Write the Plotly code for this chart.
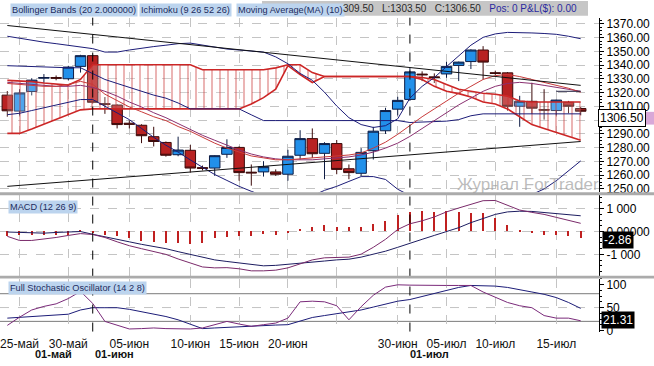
import plotly.graph_objects as go

W, H = 654, 366

# ---------------- data ----------------
idx = list(range(48))
opens  = [1318.2,1306.6,1320.8,1330.5,1331.0,1330.1,1339.1,1346.9,1312.0,1311.0,1297.8,1296.3,1288.0,1283.8,1274.9,1278.1,
          1265.5,1265.2,1275.2,1280.2,1262.2,1262.4,1262.4,1260.7,1274.5,1286.6,1275.9,1283.0,1264.7,1261.4,1277.8,1292.3,
          1308.0,1315.1,1333.5,1331.5,1333.6,1339.8,1342.6,1351.0,1334.5,1334.4,1310.1,1313.7,1307.7,1307.0,1313.0,1308.5]
highs  = [1321.2,1322.5,1330.5,1333.5,1332.5,1339.5,1347.5,1347.5,1316.8,1311.5,1299.9,1297.0,1295.2,1284.5,1288.0,1282.0,
          1267.0,1274.5,1286.1,1281.0,1267.8,1270.2,1264.2,1278.5,1292.7,1294.0,1284.0,1285.6,1267.8,1279.7,1295.2,1309.0,
          1317.0,1338.0,1335.5,1334.0,1342.4,1342.6,1351.5,1353.8,1336.0,1335.0,1317.7,1327.2,1322.5,1315.0,1314.0,1309.5]
lows   = [1302.5,1303.4,1318.0,1327.0,1329.0,1329.0,1334.6,1312.0,1304.6,1294.0,1294.0,1283.3,1280.9,1273.5,1273.8,1261.9,
          1263.5,1259.5,1272.6,1256.0,1252.4,1259.0,1259.5,1256.0,1271.4,1272.6,1257.1,1260.7,1257.1,1259.5,1271.4,1290.0,
          1303.4,1314.0,1328.4,1327.0,1330.8,1328.4,1337.2,1329.6,1333.0,1307.0,1295.2,1304.6,1300.4,1303.4,1305.0,1303.5]
closes = [1306.8,1319.8,1329.1,1331.0,1330.5,1338.6,1346.9,1313.0,1311.5,1296.8,1297.0,1288.7,1284.5,1274.5,1278.3,1265.2,
          1265.0,1274.2,1280.2,1261.9,1261.7,1266.2,1260.7,1273.8,1286.6,1275.6,1283.0,1264.2,1261.9,1276.6,1292.0,1307.0,
          1314.4,1335.1,1333.0,1331.0,1339.1,1342.2,1351.0,1342.2,1334.0,1310.1,1313.7,1308.7,1307.3,1314.6,1310.1,1306.5]

bb_upper = [1361,1359.5,1358,1356.7,1355.6,1354.5,1353.5,1352,1349.5,1349.5,1351,1352.4,1353.5,1354.5,1355.6,1356,
            1354.5,1353,1351.7,1351,1350.3,1349.5,1346,1341,1334,1329,1320.3,1310.3,1301.8,1296.8,1294.7,1296,
            1301,1316,1324.6,1331,1338.9,1346.7,1354.5,1360.2,1362.7,1363.8,1363.8,1363.4,1363,1362.4,1361,1359.2]
bb_lower = [1304,1305,1307,1309,1311,1313,1315,1315,1310.3,1305.4,1300.4,1294,1287.5,1281.8,1276.8,1271.1,
            1265.5,1260.5,1256.2,1251.9,1248.3,1245,1243,1242,1243,1245,1249,1251.9,1255.5,1259,1259,1256.9,
            1249.8,1245,1240,1236,1233,1230,1230,1232,1235,1238,1242,1246,1250,1256,1263,1270.4]
kijun    = [1339.6,1339.2,1338.9,1338.9,1338.5,1338.1,1338.1,1333.9,1329.6,1326.7,1323.9,1321,1318.2,1316,1312.5,1308.2,
            1308.2,1308.2,1308.2,1308.2,1303.9,1299.7,1299.7,1299.7,1299.7,1299.7,1299.7,1299.7,1299.7,1299.7,1299.7,1299.7,
            1299.7,1298.3,1298.6,1299,1299.3,1300.4,1303.2,1304.6,1304.6,1304.6,1304.6,1304.6,1304.6,1304.6,1304.6,1304.6]
ma10     = [1326.7,1326,1325.3,1324.6,1324.6,1326,1328.2,1326,1318.9,1314,1309.6,1306.1,1302.5,1299.7,1295.4,1291.9,
            1287.5,1283.3,1279.7,1276.8,1274,1272.6,1271.2,1271.2,1271.9,1272.6,1273.3,1274,1274.7,1276.1,1279.7,1284,
            1289.7,1296.1,1302.5,1308.2,1313.9,1319.6,1324.6,1329.6,1332.4,1333.2,1331.7,1329.6,1327.4,1325.3,1323.2,1320.3]
bb_mid   = [1327.5,1326.7,1326,1325.3,1324.6,1324.6,1325.3,1323.8,1321,1317.5,1313.2,1309.6,1305.4,1301.8,1297.5,1293.2,
            1289,1285.4,1281.9,1278.3,1275.4,1273.3,1271.9,1271.2,1271.2,1271.2,1271.9,1272.6,1273.3,1274.7,1276.8,1279.7,
            1283.3,1288.2,1293.9,1299.7,1305.4,1311.1,1316,1321,1324.6,1326.7,1327.5,1326.7,1325.3,1323.8,1322.5,1321]
tenkan_tail = [None]*45 + [1321, 1321, 1321]
span_top = [1328.9,1328.5,1328,1327,1326,1325.5,1329.6,1340.3,1340.3,1340.3,1340.3,1340.3,1340.3,1340.3,1340.3,1340.3,
            1336.7,1336.7,1336.7,1336.7,1336.7,1336.7,1338,1340.3,1340.3,1334.6,1331.7,1331.7,1331.7,1331.7,1331.7,1331.7,
            1331.7,1331.7,1331,1329.6,1326,1322.5,1321,1319.6,1318.9,1317.5,1313.9,1313.2,1313.2,1313.2,1313.2,1313.2]
span_bot = [1290.4,1290.4,1293.6,1297.2,1300.6,1304,1307.5,1308.2,1308.2,1308.2,1308.2,1308.2,1308.2,1308.2,1308.2,1308.2,
            1308.2,1308.2,1308.2,1308.2,1311.8,1316.4,1322.5,1339.6,1333.2,1327.4,1331.7,1331.7,1331.7,1331.7,1331.7,1331.7,
            1331.7,1331.7,1329.6,1324.6,1321,1319.3,1316.8,1313.2,1311.8,1308.2,1302.5,1296.8,1294,1291.1,1288.2,1285.4]
trend_x = [0, 47]
trend_upper = [1368.8, 1325.3]
trend_lower = [1251.9, 1284.5]

macd_line = [-2.1,-3.9,-3.9,-3.4,-2.6,-1.7,-0.9,-1.3,-2.6,-4.5,-6.2,-7.5,-8.8,-10,-12,-13.7,
             -15.5,-15.9,-15.8,-16.3,-17.2,-17.2,-16.9,-15.9,-14.2,-12.4,-11.5,-11.4,-11.2,-9.9,-6.9,-3.4,
             0.9,3.4,4.7,6.4,8.6,10.3,12,13.5,13.6,11.6,9.4,8.4,7.5,6.2,4.9,3.6]
macd_signal = [-0.2,-0.4,-0.6,-0.7,-0.4,-0.2,0,-1.2,-2.4,-3.4,-4.5,-5.6,-6.4,-7.5,-8.8,-10.1,
               -11.4,-12.4,-13.1,-13.7,-14.4,-15,-14.8,-14.4,-13.9,-13.3,-12.9,-12.4,-12.1,-11.2,-10,-8.6,
               -6.9,-5.3,-3.4,-1.7,0,1.7,3.9,5.8,7.5,8.6,8.9,8.8,8.4,7.9,7.4,6.9]
macd_hist = [-2,-1.4,-1.4,-1.4,-1.4,-1.4,0.7,-0.7,-1.4,-1.9,-2.9,-4.3,-4.6,-5,-5.3,-5.7,
             -5,-2.9,-2.4,-1.9,-2.1,-1.1,-1.4,-0.7,1.1,2.1,2.9,1.7,1.7,2.1,3.1,4.6,
             7.1,8.6,8.9,8.6,8.9,8.6,7.9,7.9,5.7,2.9,0.7,-0.7,-1.4,-1.7,-1.9,-2.86]
stoch_k = [11.3,29,44.7,52.5,58,69.5,85,58.9,19.9,11.3,3.5,4.3,5.7,4.3,3.5,3.5,
           5.7,12.8,19.9,14.2,9.2,12.8,16.3,27,62.4,63.8,62.4,53.9,23.4,51.8,76.6,94.3,
           99.3,98.6,97.9,97.9,97.9,97.9,97.9,83.7,73,61,53.9,49.6,32.6,27,27,21.31]
stoch_d = [27,28.4,30.5,32.6,34,35.5,44.7,49.6,49.6,49.6,46.1,41.1,36.2,30.5,23.4,14.2,
           4.3,5.7,7.1,9.2,10.6,11.3,12,12.8,19.9,28.4,32.6,36.9,39.7,44.7,51,58.2,
           63.8,67.4,73.8,79.4,85.8,93.6,97.9,97.9,96.5,93.6,89.4,83.7,78.7,71.6,61,48.2]

date_pos = [1, 5, 10, 15, 19, 23, 27, 32, 36, 40, 45]
date_labels = ['25-май', '30-май', '05-июн', '10-июн', '15-июн', '20-июн', '', '30-июн', '05-июл', '10-июл', '15-июл']
month_labels = ['01-май', '01-июн', '01-июл']
month_pos = [3.8, 8.8, 34.6]
month_lines = [7, 33]
last_price = 1306.50
macd_last = -2.86
stoch_last = 21.31

# ---------------- helpers ----------------
def px(x):
    return x / W

def py(y):
    return 1 - y / H

XD = px(599)
XR = [-0.6, 48.5]
FONT = 'Liberation Sans, Arial, sans-serif'
NAVY = '#1c1c78'
GRID = '#c4c4c4'

fig = go.Figure()

# cloud
fig.add_trace(go.Scatter(x=idx, y=span_bot, mode='lines', line=dict(color='#cc2626', width=1.6),
                         xaxis='x', yaxis='y', hoverinfo='skip', showlegend=False))
fig.add_trace(go.Scatter(x=idx, y=span_top, mode='lines', line=dict(color='#cc2626', width=1.6),
                         fill='tonexty', fillcolor='rgba(255,245,245,0.2)',
                         fillpattern=dict(shape='|', size=8, solidity=0.18, fgcolor='#c83030',
                                          bgcolor='rgba(255,248,248,0.2)'),
                         xaxis='x', yaxis='y', hoverinfo='skip', showlegend=False))

# candles
fig.add_trace(go.Candlestick(x=idx, open=opens, high=highs, low=lows, close=closes,
                             increasing=dict(line=dict(color='#0e1c44', width=1), fillcolor='#2290ea'),
                             decreasing=dict(line=dict(color='#3c0a0a', width=1), fillcolor='#b82222'),
                             whiskerwidth=0, xaxis='x', yaxis='y', hoverinfo='skip', showlegend=False))

def line(xv, yv, color, width=1, xa='x', ya='y'):
    fig.add_trace(go.Scatter(x=xv, y=yv, mode='lines', line=dict(color=color, width=width),
                             xaxis=xa, yaxis=ya, hoverinfo='skip', showlegend=False, connectgaps=False))

line(idx, bb_upper, NAVY)
line(idx, bb_lower, NAVY)
line(idx, kijun, NAVY)
line(idx, bb_mid, '#8a3070')
line(idx, ma10, '#c83a3a')
line(idx, tenkan_tail, '#202040')
line(trend_x, trend_upper, '#111111')
line(trend_x, trend_lower, '#111111')

# MACD
fig.add_trace(go.Bar(x=idx, y=macd_hist, width=0.11, marker=dict(color='#c02020', line=dict(width=0)),
                     xaxis='x2', yaxis='y2', hoverinfo='skip', showlegend=False))
line(idx, macd_signal, '#1c1c60', 1, 'x2', 'y2')
line(idx, macd_line, '#7a2a6a', 1, 'x2', 'y2')

# Stochastic
line(idx, stoch_d, '#1c1c78', 1, 'x3', 'y3')
line(idx, stoch_k, '#7a2a7a', 1, 'x3', 'y3')

# ---------------- axes ----------------
xcommon = dict(range=XR, domain=[0, XD], tickvals=date_pos, showgrid=True, gridcolor=GRID,
               griddash='dash', gridwidth=1, zeroline=False, showline=False, fixedrange=True)
ycommon = dict(side='right', showline=True, linecolor='#000000', linewidth=1, ticks='outside',
               ticklen=4, tickcolor='#000000', zeroline=False,
               tickfont=dict(family=FONT, size=12, color='#000000'), fixedrange=True)

fig.update_layout(
    width=W, height=H, margin=dict(l=0, r=0, t=0, b=0),
    paper_bgcolor='white', plot_bgcolor='white', boxgap=0.14, boxgroupgap=0, bargap=0,
    font=dict(family=FONT, size=12, color='#000000'),
    xaxis=dict(**xcommon, anchor='y', showticklabels=False, rangeslider=dict(visible=False)),
    xaxis2=dict(**xcommon, anchor='y2', showticklabels=False, matches='x'),
    xaxis3=dict(**xcommon, anchor='y3', showticklabels=True, matches='x', ticktext=date_labels,
                ticks='outside', ticklen=1, tickcolor='rgba(0,0,0,0)',
                tickfont=dict(family=FONT, size=12, color='#111111')),
    yaxis=dict(**ycommon, domain=[py(195), py(17)], range=[1247.6, 1374.5], dtick=10, tickformat='.2f',
               showgrid=True, gridcolor=GRID, griddash='dash', anchor='x',
               minor=dict(ticks='outside', ticklen=2, tickcolor='#000000', dtick=2.5, showgrid=False)),
    yaxis2=dict(**ycommon, domain=[py(280), py(198)], range=[-19.3, 15.9], tickvals=[-10, 0, 10],
                ticktext=['-1 000', '0.00000', '1 000'], showgrid=True, gridcolor=GRID, griddash='dash',
                anchor='x2', minor=dict(ticks='outside', ticklen=2, tickcolor='#000000', dtick=2.5)),
    yaxis3=dict(**ycommon, domain=[py(337), py(283)], range=[-2.1, 112.8], tickvals=[0, 50, 100],
                showgrid=False, anchor='x3',
                minor=dict(ticks='outside', ticklen=2, tickcolor='#000000', dtick=12.5)),
)

shapes = []
for lv, dash, col in [(80, 'solid', '#7a7a7a'), (20, 'solid', '#7a7a7a'), (50, 'dash', GRID)]:
    shapes.append(dict(type='line', xref='paper', yref='y3', x0=0, x1=XD, y0=lv, y1=lv,
                       line=dict(color=col, width=1, dash=dash), layer='below'))
for m in month_lines:
    shapes.append(dict(type='line', xref='x', yref='paper', x0=m, x1=m, y0=py(337), y1=py(17),
                       line=dict(color='#000000', width=1, dash='dash')))
for y0, y1 in [(195, 198), (280, 283)]:
    shapes.append(dict(type='rect', xref='paper', yref='paper', x0=0, x1=1, y0=py(y1), y1=py(y0),
                       fillcolor='#ababab', line=dict(width=0)))
shapes.append(dict(type='rect', xref='paper', yref='paper', x0=px(262), x1=px(588), y0=py(15), y1=1,
                   fillcolor='#c6c6c6', line=dict(width=0)))
shapes.append(dict(type='rect', xref='paper', yref='paper', x0=px(643), x1=1, y0=py(126), y1=py(113),
                   fillcolor='#d8a8d8', line=dict(width=0)))
fig.update_layout(shapes=shapes)

ann = []
def label(text, x, y, size=9.2, color='#1c2c60', bg='#bcd4ee', xanchor='left', yanchor='middle', **kw):
    ann.append(dict(text=text, x=px(x), y=py(y), xref='paper', yref='paper', xanchor=xanchor,
                    yanchor=yanchor, showarrow=False, font=dict(family=FONT, size=size, color=color),
                    bgcolor=bg, borderpad=1, **kw))

label('Bollinger Bands (20 2.000000)', 10, 9.5)
label('Ichimoku (9 26 52 26)', 139, 9.5)
label('Moving Average(MA) (10)', 236, 9.5)
ann.append(dict(text="<span style='color:#2a2a2a'>309.50   L:1303.50   C:1306.50</span>   "
                     "<span style='color:#2a2aa0'>Pos: 0 P&L($): 0.00</span>",
                x=px(341), y=py(8), xref='paper', yref='paper', xanchor='left', yanchor='middle',
                showarrow=False, font=dict(family=FONT, size=10)))
label('MACD (12 26 9)', 8, 210)
label('Full Stochastic Oscillator (14 2 8)', 8, 293)
label('Журнал ForTrader', 455, 187, size=17, color='rgba(160,160,160,0.7)', bg='rgba(0,0,0,0)')

label(f'{last_price:.2f}', 621.5, 119.5, size=12, color='#000000', bg='#ffffff', xanchor='center',
      bordercolor='#000000', borderwidth=1)
label(f'{macd_last:.2f}', 617.5, 244, size=12, color='#ffffff', bg='#000000', xanchor='center')
label(f'{stoch_last:.2f}', 617.5, 325.5, size=12, color='#ffffff', bg='#000000', xanchor='center')

for t, p in zip(month_labels, month_pos):
    ann.append(dict(text=f'<b>{t}</b>', x=p, y=py(367), xref='x3', yref='paper', xanchor='center',
                    yanchor='bottom', showarrow=False, borderpad=0,
                    font=dict(family=FONT, size=11, color='#111111')))

fig.update_layout(annotations=ann)
fig.write_html('out.html')
